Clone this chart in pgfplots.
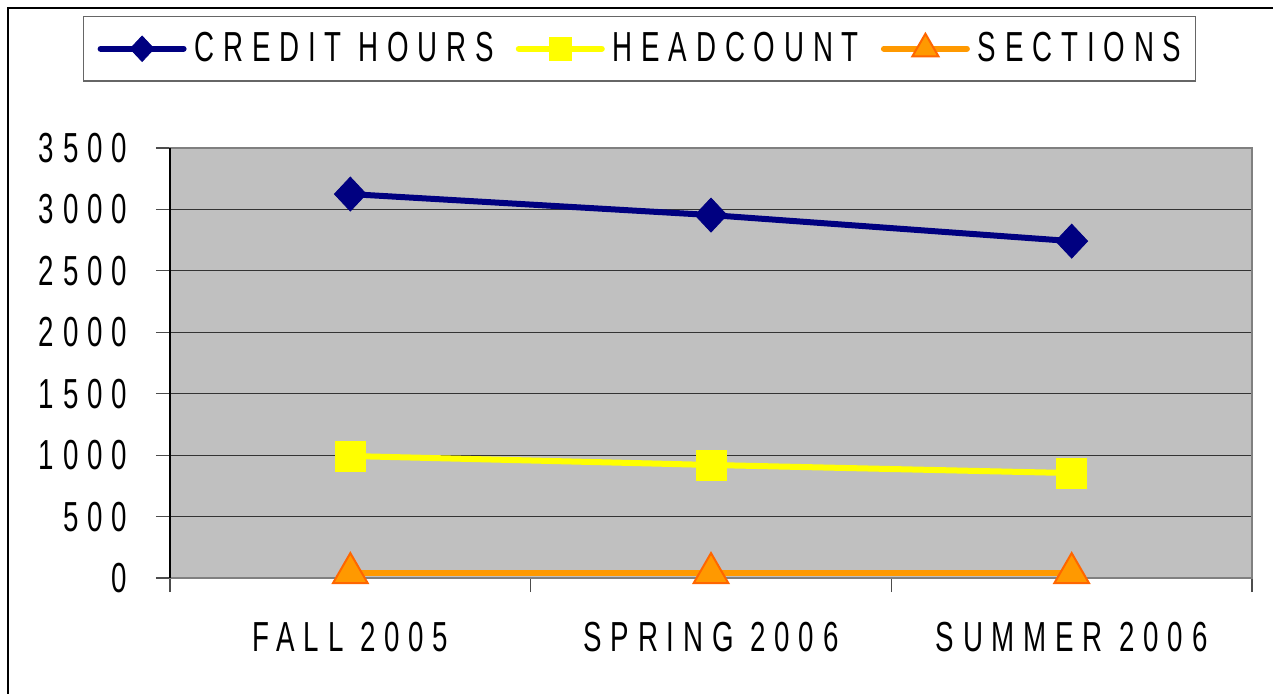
\documentclass[border=0pt]{standalone}
\usepackage{fontspec}
\usepackage{pgfplots}
\pgfplotsset{compat=1.18}
\newfontfamily\chartfont[FakeStretch=0.66,LetterSpace=21]{Liberation Sans}
\newcommand\cf{\chartfont\fontsize{21}{24}\selectfont}
\definecolor{navyc}{HTML}{000080}
\definecolor{yelc}{HTML}{FFFF00}
\definecolor{orc}{HTML}{FF9900}
\definecolor{ordk}{HTML}{FF6600}
\definecolor{bgc}{HTML}{C0C0C0}
\begin{document}
\begin{tikzpicture}
\useasboundingbox (0,0) rectangle (636.5pt,-347pt);
\draw[line width=1.3pt] (4pt,-360pt) -- (4pt,-4pt) -- (660pt,-4pt);
\begin{axis}[
  at={(85pt,-289pt)}, anchor=south west,
  scale only axis, width=541pt, height=215pt,
  xmin=-0.5, xmax=2.5, ymin=0, ymax=3500,
  axis background/.style={fill=bgc},
  axis line style={draw=black!50, line width=0.8pt},
  xtick pos=bottom, ytick pos=left,
  ytick={0,500,...,3500},
  yticklabels={0,500,1000,1500,2000,2500,3000,3500},
  xtick={-0.5,0.5,1.5,2.5},
  xticklabels={},
  extra x ticks={0,1,2},
  extra x tick labels={FALL 2005,SPRING 2006,SUMMER 2006},
  extra x tick style={major tick length=0pt, grid=none,
     xticklabel style={anchor=north, yshift=-18.5pt}},
  ymajorgrids,
  grid style={draw=black!80, line width=0.6pt},
  tick align=outside,
  major tick length=7pt,
  tick style={draw=black!70, line width=0.6pt},
  ticklabel style={font=\cf},
  yticklabel style={anchor=east, xshift=-11pt},
  legend columns=3,
  legend style={at={(-0.0804,1.307)}, anchor=north west,
    draw=black!60, line width=0.6pt, font=\cf,
    inner xsep=7pt, inner ysep=6pt,
    nodes={inner xsep=0pt},
    /tikz/every even column/.append style={column sep=11pt},
    /tikz/every odd column/.append style={column sep=4pt},
    cells={anchor=west}},
  legend image code/.code={\draw[mark repeat=2, mark phase=2, line cap=round, #1, every mark/.append style={scale=0.75}] plot coordinates {(0pt,0pt)(20.75pt,0pt)(41.5pt,0pt)};},
  after end axis/.code={\draw[black, line width=0.8pt] (rel axis cs:0,0) -- (rel axis cs:0,1);},
]
\addplot[navyc, line width=3pt, mark=diamond*, mark size=8.5pt,
  mark options={fill=navyc, draw=navyc, line width=0.4pt, xscale=1.25}]
  coordinates {(0,3125)(1,2954)(2,2742)};
\addlegendentry{CREDIT HOURS}
\addplot[yelc, line width=3pt, mark=square*, mark size=7.5pt,
  mark options={fill=yelc, draw=yelc, line width=0.4pt}]
  coordinates {(0,993)(1,920)(2,854)};
\addlegendentry{HEADCOUNT}
\addplot[orc, line width=3pt, mark=triangle*, mark size=10pt,
  mark options={fill=orc, draw=ordk, line width=1pt}]
  coordinates {(0,40)(1,40)(2,40)};
\addlegendentry{SECTIONS}
\end{axis}
\end{tikzpicture}
\end{document}
